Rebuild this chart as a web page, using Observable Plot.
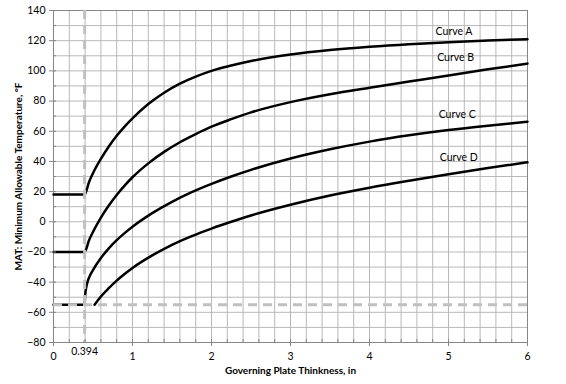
<!DOCTYPE html>
<html><head><meta charset="utf-8">
<script src="https://cdn.jsdelivr.net/npm/d3@7"></script>
<script src="https://cdn.jsdelivr.net/npm/@observablehq/plot@0.6"></script>
<style>body{margin:0;background:#fff}</style>
</head><body><div id="chart"></div>
<script>
// Governing plate thickness (in) and MAT (°F) for each curve
const thicknessA = [0, 0.394, 0.45, 0.5, 0.6, 0.7, 0.8, 0.9, 1.0, 1.2, 1.4, 1.6, 1.8, 2.0, 2.25, 2.5, 3.0, 3.5, 4.0, 4.5, 5.0, 5.5, 6.0];
const curveA     = [18, 18, 26.4, 32.2, 41.7, 49.9, 57.0, 63.1, 68.5, 78, 85.5, 91.5, 96.2, 100, 103.5, 106.5, 110.8, 113.8, 116, 117.7, 119.0, 120.1, 121.0];
const thicknessB = [0, 0.394, 0.45, 0.5, 0.6, 0.7, 0.8, 0.9, 1.0, 1.2, 1.4, 1.6, 1.8, 2.0, 2.25, 2.5, 3.0, 3.5, 4.0, 4.5, 5.0, 5.5, 6.0];
const curveB     = [-20, -20, -12.2, -6.7, 2.8, 10.8, 17.8, 24, 29.5, 38.7, 46.3, 52.7, 58.1, 63, 68, 72.5, 79.3, 84.5, 88.8, 92.9, 97.0, 101, 104.8];
const thicknessC = [0, 0.394, 0.40, 0.42, 0.45, 0.5, 0.6, 0.7, 0.8, 0.9, 1.0, 1.25, 1.5, 1.75, 2.0, 2.25, 2.5, 3.0, 3.5, 4.0, 4.5, 5.0, 5.5, 6.0];
const curveC     = [-55, -55, -49, -42, -37, -32, -24, -17.6, -12.2, -7.5, -3.3, 5.7, 13.2, 19.6, 25.1, 30, 34.4, 41.9, 48.0, 53.1, 57.3, 60.8, 63.7, 66.3];
const thicknessD = [0.52, 0.6, 0.7, 0.8, 0.9, 1.0, 1.25, 1.5, 1.75, 2.0, 2.25, 2.5, 3.0, 3.5, 4.0, 4.5, 5.0, 5.5, 6.0];
const curveD     = [-55, -49.5, -44, -39, -34.6, -30.6, -22.3, -15.3, -9.5, -4.5, 0, 4.2, 11.3, 17.4, 22.6, 27.2, 31.5, 35.6, 39.4];

const curveNames = ["Curve A", "Curve B", "Curve C", "Curve D"];
const labelX = [5.07, 5.09, 5.11, 5.13];
const labelY = [126.3, 108.9, 71.1, 42.6];

const xTicks = [0, 1, 2, 3, 4, 5, 6];
const yTicks = [-80, -60, -40, -20, 0, 20, 40, 60, 80, 100, 120, 140];
const xGrid = d3.range(0, 6.0001, 0.2).map(v => +v.toFixed(1));
const yGrid = d3.range(-80, 141, 10);
const refThickness = [0.394];
const refTemp = [-55];
const refLabel = ["0.394"];
const xTitle = "Governing Plate Thinkness, in";
const yTitle = "MAT: Minimum Allowable Temperature, °F";

const rows = [];
[[thicknessA, curveA], [thicknessB, curveB], [thicknessC, curveC], [thicknessD, curveD]].forEach(([ts, vs], i) => {
  ts.forEach((t, j) => rows.push({curve: curveNames[i], t, T: vs[j]}));
});
const labels = curveNames.map((name, i) => ({name, x: labelX[i], y: labelY[i]}));

const font = "Lato, 'Open Sans', sans-serif";
const chart = Plot.plot({
  width: 566, height: 384,
  marginLeft: 53, marginRight: 39, marginTop: 10, marginBottom: 42,
  style: {fontFamily: font, fontSize: "10.5px", color: "#000", background: "#fff"},
  x: {domain: [0, 6]},
  y: {domain: [-80, 140]},
  marks: [
    Plot.ruleX(xGrid, {x: d => d, stroke: "#b8b8b8", strokeWidth: 1}),
    Plot.ruleY(yGrid, {y: d => d, stroke: "#b8b8b8", strokeWidth: 1}),
    Plot.frame({stroke: "#868686", strokeWidth: 1}),
    Plot.line(rows, {x: "t", y: "T", z: "curve", stroke: "#000", strokeWidth: 2.5, curve: "monotone-x"}),
    Plot.ruleX(refThickness, {x: d => d, stroke: "#c0c0c0", strokeWidth: 3, strokeDasharray: "9,6"}),
    Plot.ruleY(refTemp, {y: d => d, stroke: "#c0c0c0", strokeWidth: 3, strokeDasharray: "9,6"}),
    Plot.tickY(yGrid, {y: d => d, stroke: "#868686", insetRight: 471}),
    Plot.tickX(xGrid, {x: d => d, stroke: "#868686", insetTop: 329}),
    Plot.axisY({ticks: yTicks, tickSize: 4, tickPadding: 4, stroke: "#868686", label: null, tickFormat: "d", fontSize: "10.5px"}),
    Plot.axisX({ticks: xTicks, tickSize: 4, tickPadding: 6, stroke: "#868686", label: null, tickFormat: "d", fontSize: "10.5px"}),
    Plot.text(refLabel, {x: refThickness, y: [-80], text: d => d, dy: 9, fontSize: 10.5, clip: false}),
    Plot.text(labels, {x: "x", y: "y", text: "name", fontSize: 10.5}),
    Plot.text([xTitle], {frameAnchor: "bottom", dy: 31, fontWeight: "bold", fontSize: 10}),
    Plot.text([yTitle], {frameAnchor: "left", textAnchor: "middle", dx: -35, rotate: -90, fontWeight: "bold", fontSize: 10})
  ]
});
document.getElementById("chart").appendChild(chart);
</script>
</body></html>
